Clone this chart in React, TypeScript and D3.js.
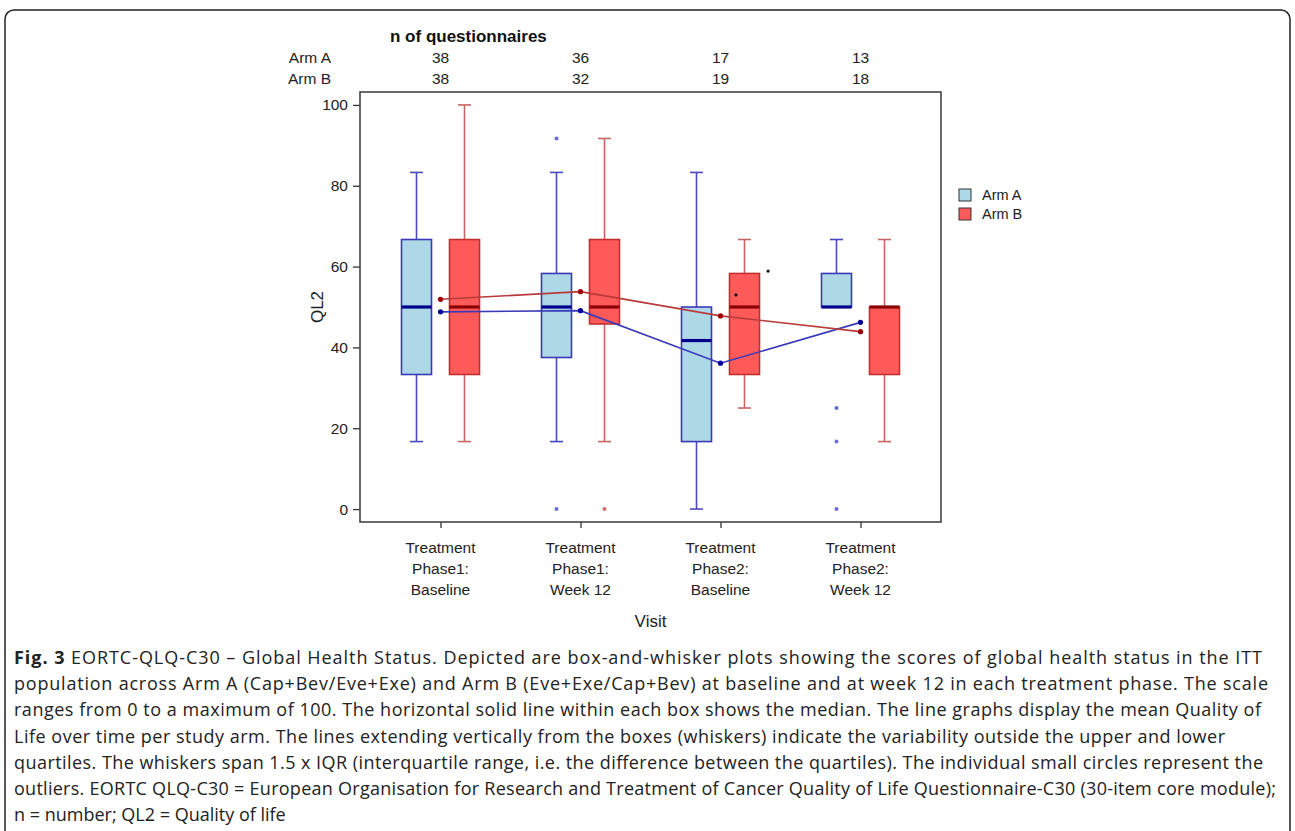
import { useEffect, useRef } from "react";
import * as d3 from "d3";

// visits on the x axis (one array of lines per label)
const visitLabels = [
  ["Treatment", "Phase1:", "Baseline"],
  ["Treatment", "Phase1:", "Week 12"],
  ["Treatment", "Phase2:", "Baseline"],
  ["Treatment", "Phase2:", "Week 12"],
];

// n of questionnaires
const nArmA = [38, 36, 17, 13];
const nArmB = [38, 32, 19, 18];

// box stats: [low whisker, Q1, median, Q3, high whisker]
const boxArmA = [
  [16.7, 33.3, 50, 66.7, 83.3],
  [16.7, 37.5, 50, 58.3, 83.3],
  [0, 16.7, 41.7, 50, 83.3],
  [50, 50, 50, 58.3, 66.7],
];
const boxArmB = [
  [16.7, 33.3, 50, 66.7, 100],
  [16.7, 45.8, 50, 66.7, 91.7],
  [25, 33.3, 50, 58.3, 66.7],
  [16.7, 33.3, 50, 50, 66.7],
];

const outliersArmA = [[], [91.7, 0], [], [25, 16.7, 0]];
const outliersArmB = [[], [0], [], []];

// mean lines
const meanArmA = [48.8, 49.1, 36.1, 46.2];
const meanArmB = [51.9, 53.8, 47.8, 43.9];

// stray black points in visit 3
const blackDots = [
  { pos: 2.11, value: 53 },
  { pos: 2.34, value: 58.9 },
];

const yTicks = [0, 20, 40, 60, 80, 100];

const captionLines = [
  "EORTC-QLQ-C30 – Global Health Status. Depicted are box-and-whisker plots showing the scores of global health status in the ITT",
  "population across Arm A (Cap+Bev/Eve+Exe) and Arm B (Eve+Exe/Cap+Bev) at baseline and at week 12 in each treatment phase. The scale",
  "ranges from 0 to a maximum of 100. The horizontal solid line within each box shows the median. The line graphs display the mean Quality of",
  "Life over time per study arm. The lines extending vertically from the boxes (whiskers) indicate the variability outside the upper and lower",
  "quartiles. The whiskers span 1.5 x IQR (interquartile range, i.e. the difference between the quartiles). The individual small circles represent the",
  "outliers. EORTC QLQ-C30 = European Organisation for Research and Treatment of Cancer Quality of Life Questionnaire-C30 (30-item core module);",
  "n = number; QL2 = Quality of life",
];
// right end of each full caption line in the figure (last line left natural)
const captionEnds = [1262, 1268, 1261, 1225, 1263, 1276, 0];

const arms = [
  {
    name: "Arm A", box: boxArmA, outliers: outliersArmA, mean: meanArmA, dx: -24,
    fill: "#add8e6", stroke: "#3a3ab8", whisker: "#4a4ac0", median: "#00008b",
    line: "#3a3ab8", point: "#0000a0", outlier: "#6a6ad8",
  },
  {
    name: "Arm B", box: boxArmB, outliers: outliersArmB, mean: meanArmB, dx: 24,
    fill: "#ff5a5a", stroke: "#c03030", whisker: "#c86464", median: "#8b0000",
    line: "#b83a3a", point: "#a00000", outlier: "#d86a6a",
  },
];

const App = () => {
  const svgRef = useRef<SVGSVGElement>(null);

  useEffect(() => {
    const svg = d3.select(svgRef.current);
    svg.selectAll("*").remove();

    const font = "'Liberation Sans', Arial, sans-serif";
    const left = 360, right = 941, top = 92, bottom = 522;

    const x = d3.scaleLinear().domain([-0.575, 3.575]).range([left, right]);
    const y = d3.scaleLinear().domain([-3.2, 103.2]).range([bottom, top]);

    // outer rounded panel
    svg.append("rect")
      .attr("x", 5).attr("y", 10).attr("width", 1285).attr("height", 830)
      .attr("rx", 9).attr("fill", "#fff").attr("stroke", "#222").attr("stroke-width", 1.5);

    // header: n of questionnaires
    svg.append("text").attr("x", 390).attr("y", 42)
      .style("font-family", font).style("font-size", "17px").style("font-weight", "bold")
      .attr("fill", "#111").text("n of questionnaires");

    [nArmA, nArmB].forEach((ns, r) => {
      const yy = 63 + r * 21;
      svg.append("text").attr("x", 331).attr("y", yy).attr("text-anchor", "end")
        .style("font-family", font).style("font-size", "15.5px").attr("fill", "#222")
        .text(arms[r].name);
      ns.forEach((n, i) => {
        svg.append("text").attr("x", x(i)).attr("y", yy).attr("text-anchor", "middle")
          .style("font-family", font).style("font-size", "15.5px").attr("fill", "#222")
          .text(n);
      });
    });

    // y axis
    const yAxis = svg.append("g").attr("transform", `translate(${left},0)`)
      .call(d3.axisLeft(y).tickValues(yTicks).tickSize(7).tickPadding(5));
    yAxis.select(".domain").remove();
    yAxis.selectAll("line").attr("stroke", "#333").attr("stroke-width", 1.3);
    yAxis.selectAll("text").style("font-family", font).style("font-size", "15.5px").attr("fill", "#222");

    // x axis ticks + labels
    const xAxis = svg.append("g").attr("transform", `translate(0,${bottom})`)
      .call(d3.axisBottom(x).tickValues([0, 1, 2, 3]).tickSize(6).tickFormat(() => ""));
    xAxis.select(".domain").remove();
    xAxis.selectAll("line").attr("stroke", "#333").attr("stroke-width", 1.3);

    visitLabels.forEach((lines, i) => {
      lines.forEach((t, k) => {
        svg.append("text").attr("x", x(i)).attr("y", 553 + k * 21).attr("text-anchor", "middle")
          .style("font-family", font).style("font-size", "15.5px").attr("fill", "#222").text(t);
      });
    });

    svg.append("text").attr("x", (left + right) / 2).attr("y", 627).attr("text-anchor", "middle")
      .style("font-family", font).style("font-size", "17px").attr("fill", "#222").text("Visit");

    svg.append("text")
      .attr("transform", `translate(323,${(top + bottom) / 2}) rotate(-90)`)
      .attr("text-anchor", "middle")
      .style("font-family", font).style("font-size", "17px").attr("fill", "#222").text("QL2");

    // boxes
    const boxW = 30, capW = 13;
    arms.forEach((arm) => {
      const g = svg.append("g");
      arm.box.forEach(([lo, q1, med, q3, hi], i) => {
        const cx = x(i) + arm.dx;
        const seg = (a: number, b: number) =>
          g.append("line").attr("x1", cx).attr("x2", cx).attr("y1", y(a)).attr("y2", y(b))
            .attr("stroke", arm.whisker).attr("stroke-width", 1.6);
        const cap = (v: number) =>
          g.append("line").attr("x1", cx - capW / 2).attr("x2", cx + capW / 2).attr("y1", y(v)).attr("y2", y(v))
            .attr("stroke", arm.whisker).attr("stroke-width", 1.6);
        if (hi > q3) { seg(q3, hi); cap(hi); }
        if (lo < q1) { seg(lo, q1); cap(lo); }
        g.append("rect").attr("x", cx - boxW / 2).attr("width", boxW)
          .attr("y", y(q3)).attr("height", y(q1) - y(q3))
          .attr("fill", arm.fill).attr("stroke", arm.stroke).attr("stroke-width", 1.6);
        g.append("line").attr("x1", cx - boxW / 2).attr("x2", cx + boxW / 2).attr("y1", y(med)).attr("y2", y(med))
          .attr("stroke", arm.median).attr("stroke-width", 3.2);
        arm.outliers[i].forEach((v) => {
          g.append("circle").attr("cx", cx).attr("cy", y(v)).attr("r", 2).attr("fill", arm.outlier);
        });
      });
    });

    blackDots.forEach((d) => {
      svg.append("circle").attr("cx", x(d.pos)).attr("cy", y(d.value)).attr("r", 1.6).attr("fill", "#111");
    });

    // mean lines
    arms.forEach((arm) => {
      const line = d3.line<number>().x((_, i) => x(i)).y((v) => y(v));
      svg.append("path").datum(arm.mean).attr("d", line)
        .attr("fill", "none").attr("stroke", arm.line).attr("stroke-width", 1.6);
      svg.selectAll(null).data(arm.mean).enter().append("circle")
        .attr("cx", (_, i) => x(i)).attr("cy", (v) => y(v)).attr("r", 2.6).attr("fill", arm.point);
    });

    // plot frame
    svg.append("rect").attr("x", left).attr("y", top).attr("width", right - left).attr("height", bottom - top)
      .attr("fill", "none").attr("stroke", "#444").attr("stroke-width", 1.6);

    // legend
    arms.forEach((arm, i) => {
      svg.append("rect").attr("x", 959).attr("y", 189 + i * 19).attr("width", 12).attr("height", 12)
        .attr("fill", arm.fill).attr("stroke", "#333").attr("stroke-width", 1);
      svg.append("text").attr("x", 982).attr("y", 200 + i * 19)
        .style("font-family", font).style("font-size", "14.5px").attr("fill", "#222").text(arm.name);
    });

    // caption
    const capFont = "'Open Sans', 'Noto Sans', sans-serif";
    captionLines.forEach((t, i) => {
      const tx = svg.append("text").attr("x", 14).attr("y", 664 + i * 26.2)
        .style("font-family", capFont).style("font-size", "18px").attr("fill", "#222");
      if (captionEnds[i] > 0) {
        tx.attr("textLength", captionEnds[i] - 14).attr("lengthAdjust", "spacing");
      }
      if (i === 0) {
        tx.append("tspan").style("font-weight", "bold").text("Fig. 3");
        tx.append("tspan").text(" " + t);
      } else {
        tx.text(t);
      }
    });
  }, []);

  return (
    <svg
      ref={svgRef}
      width={1295}
      height={831}
      style={{ position: "absolute", left: 0, top: 0, background: "#fff" }}
    />
  );
};

export default App;
